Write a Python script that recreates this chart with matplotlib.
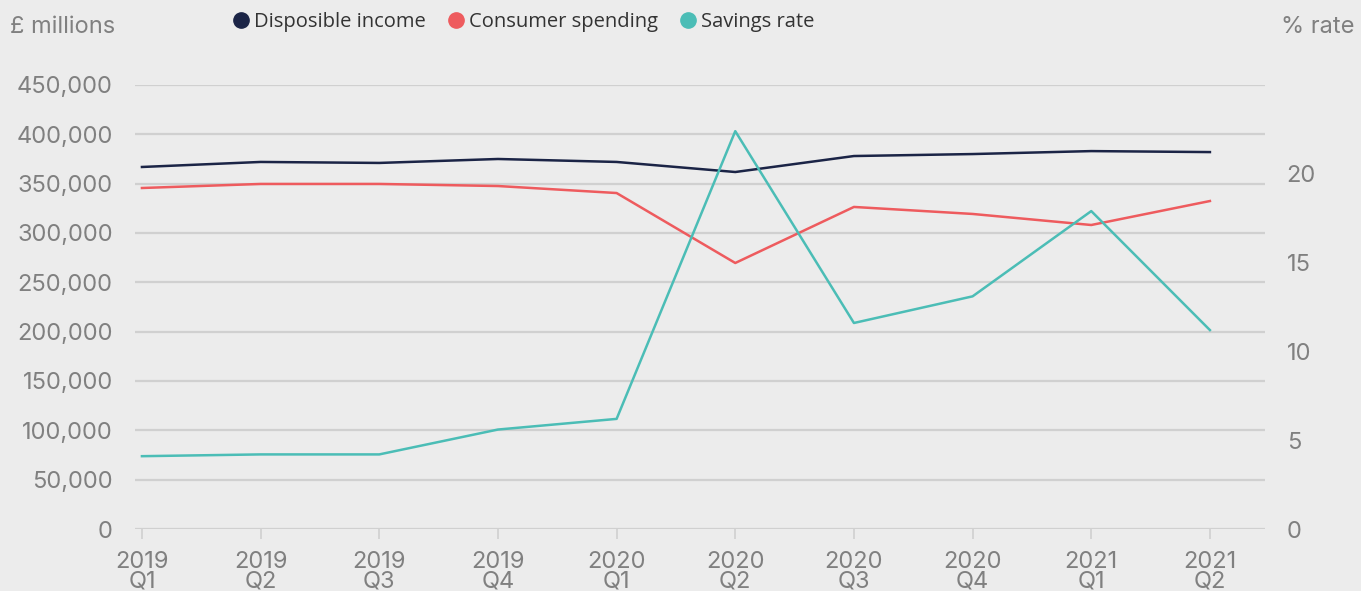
import numpy as np
import matplotlib.pyplot as plt
from matplotlib.lines import Line2D
from matplotlib.patches import Rectangle

# quarterly figures
quarters = ['2019\nQ1', '2019\nQ2', '2019\nQ3', '2019\nQ4', '2020\nQ1',
            '2020\nQ2', '2020\nQ3', '2020\nQ4', '2021\nQ1', '2021\nQ2']
disposable_income = [366900, 372000, 371000, 375000, 372000,
                     361800, 378000, 380000, 383000, 382000]
consumer_spending = [345600, 349700, 349700, 347600, 340500,
                     269600, 326400, 319300, 308100, 332400]
savings_rate = [4.1, 4.2, 4.2, 5.6, 6.2, 22.4, 11.6, 13.1, 17.9, 11.2]

left_ticks = np.arange(0, 450001, 50000)
right_ticks = [0, 5, 10, 15, 20]

navy = '#1b2446'
red = '#ee5b5e'
teal = '#4bbdb6'
bg = '#ececec'
grid_c = '#d0d0d0'
tick_c = '#808080'

plt.rcParams['font.family'] = ['Inter', 'DejaVu Sans']

fig = plt.figure(figsize=(13.7, 5.91), dpi=100, facecolor=bg)
fig.patches.append(Rectangle((0.9934, 0), 0.0066, 1, transform=fig.transFigure,
                             facecolor='white', edgecolor='none', zorder=-1))
ax = fig.add_axes([0.0985, 0.1049, 0.8245, 0.7513])
ax.set_facecolor(bg)
x = np.arange(len(quarters))

ax.set_ylim(0, 450000)
ax.set_yticks(left_ticks)
ax.set_yticklabels([f'{v:,}' for v in left_ticks])
ax.grid(axis='y', color=grid_c, linewidth=1.6)
ax.set_axisbelow(True)
for s in ax.spines.values():
    s.set_visible(False)

ax.plot(x, disposable_income, color=navy, linewidth=1.8, zorder=3)
ax.plot(x, consumer_spending, color=red, linewidth=1.8, zorder=3)
ax.set_xlim(-0.059, 9.46)
ax.set_xticks(x)
ax.set_xticklabels(quarters, linespacing=0.85)
ax.tick_params(axis='x', length=7, width=1.2, color=grid_c, pad=9,
               labelsize=17, labelcolor=tick_c)
ax.tick_params(axis='y', length=0, pad=16, labelsize=17, labelcolor=tick_c)

ax2 = ax.twinx()
ax2.set_ylim(0, 25)
ax2.set_yticks(right_ticks)
ax2.plot(x, savings_rate, color=teal, linewidth=1.8, zorder=3)
for s in ax2.spines.values():
    s.set_visible(False)
ax2.tick_params(axis='y', length=0, pad=16, labelsize=17, labelcolor=tick_c)

fig.text(0.007, 0.955, '£ millions', fontsize=17, color=tick_c, va='center')
fig.text(0.935, 0.955, '% rate', fontsize=17, color=tick_c, va='center')

handles = [Line2D([], [], marker='o', linestyle='none', markersize=11, color=c)
           for c in (navy, red, teal)]
fig.legend(handles, ['Disposible income', 'Consumer spending', 'Savings rate'],
           loc='center left', bbox_to_anchor=(0.155, 0.963), ncol=3,
           frameon=False, labelcolor='#333333',
           handletextpad=0.15, columnspacing=1.0, handlelength=1.0,
           prop={'family': ['Open Sans', 'DejaVu Sans'], 'size': 14.5})

fig.savefig('out.png', dpi=100, facecolor=bg)
